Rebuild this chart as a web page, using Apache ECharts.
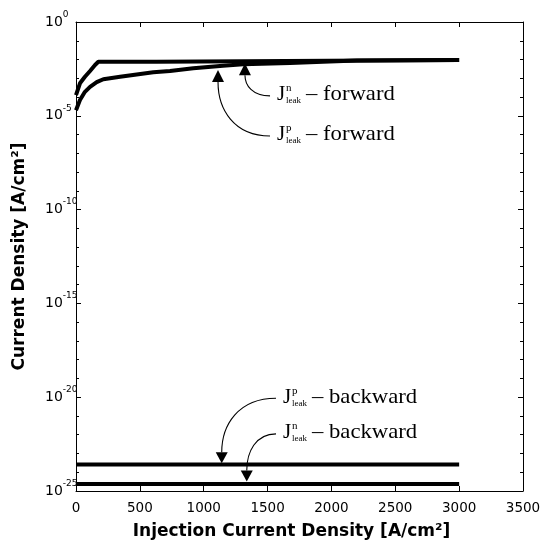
<!DOCTYPE html>
<html>
<head>
<meta charset="utf-8">
<script src="https://cdn.jsdelivr.net/npm/echarts@6/dist/echarts.min.js"></script>
<style>
  html, body { margin: 0; padding: 0; background: #fff; }
  #chart { width: 550px; height: 549px; }
</style>
</head>
<body>
<div id="chart"></div>
<script>
// Leakage current densities vs. injection current density (A/cm^2)
const nForwardX = [0, 31, 70, 110, 149, 175, 630, 640, 3000];
const nForwardY = [1.26e-4, 5.4e-4, 1.2e-3, 2.45e-3, 5.1e-3, 7.6e-3, 7.6e-3, 9.3e-3, 9.5e-3];

const pForwardX = [0, 31, 70, 110, 162, 214, 345, 475, 605, 736, 918, 1151, 1308, 1676, 1934, 2200, 3000];
const pForwardY = [2.0e-5, 6.9e-5, 1.9e-4, 3.5e-4, 6.2e-4, 8.9e-4, 1.2e-3, 1.6e-3, 2.1e-3, 2.45e-3,
                   3.4e-3, 4.7e-3, 5.6e-3, 6.5e-3, 7.6e-3, 8.9e-3, 9.3e-3];

const backwardX = [0, 3000];
const pBackwardY = [2.57e-24, 2.57e-24];
const nBackwardY = [2.34e-25, 2.34e-25];

// axis ranges (y in decades: 10^-25 .. 10^0)
const xMin = 0, xMax = 3500, xStep = 500;
const yMinExp = -25, yMaxExp = 0, yStepExp = 5;

// label text of the annotations
const carriers = ['n', 'p', 'p', 'n'];
const directions = ['forward', 'forward', 'backward', 'backward'];

// annotation anchors in data space: label start, arrow tip, arrow direction
const notePlacement = [
  { label: [1574, 1.3e-4],  tip: [1323, 6.3e-3],  head: 'up' },
  { label: [1574, 9.5e-7],  tip: [1112, 2.75e-3], head: 'up' },
  { label: [1621, 1.0e-20], tip: [1141, 3.0e-24], head: 'down' },
  { label: [1621, 1.26e-22], tip: [1337, 3.2e-25], head: 'down' }
];

// the y axis is laid out in decades, so values go through log10
const dec = v => Math.log10(v);
const zip = (xs, ys) => xs.map((x, i) => [x, dec(ys[i])]);

const sansFont = 'DejaVu Sans';
const serifFont = 'Liberation Serif';

const chart = echarts.init(document.getElementById('chart'), null, { renderer: 'canvas' });

const yLabelFormatter = e => '{b|10}{s|' + Math.round(e) + '}';

const axisLineStyle = { show: true, onZero: false, lineStyle: { color: '#000', width: 1 } };

const baseY = {
  type: 'value',
  min: yMinExp,
  max: yMaxExp,
  interval: yStepExp,
  axisLine: axisLineStyle,
  axisTick: { show: true, inside: true, length: 5, lineStyle: { color: '#000' } },
  minorTick: { show: true, splitNumber: 5, length: 3, lineStyle: { color: '#000' } },
  splitLine: { show: false },
  minorSplitLine: { show: false }
};

const baseX = {
  type: 'value',
  min: xMin,
  max: xMax,
  interval: xStep,
  axisLine: axisLineStyle,
  axisTick: { show: true, inside: true, length: 5, lineStyle: { color: '#000' } },
  splitLine: { show: false }
};

const lineSeries = (name, data) => ({
  name,
  type: 'line',
  data,
  showSymbol: false,
  symbol: 'none',
  lineStyle: { color: '#000', width: 4 },
  itemStyle: { color: '#000' },
  xAxisIndex: 0,
  yAxisIndex: 0,
  z: 3
});

chart.setOption({
  animation: false,
  backgroundColor: '#fff',
  grid: { left: 76, right: 27, top: 22, bottom: 58, containLabel: false, outerBoundsMode: 'none' },
  xAxis: [
    Object.assign({}, baseX, {
      position: 'bottom',
      name: 'Injection Current Density [A/cm²]',
      nameLocation: 'middle',
      nameGap: 32,
      nameTextStyle: {
        fontFamily: sansFont, fontWeight: 'bold', fontSize: 17, color: '#000',
        verticalAlign: 'top', padding: [0, 16, 0, 0]
      },
      axisLabel: { margin: 10, fontFamily: sansFont, fontSize: 13.5, color: '#000', formatter: v => String(v) }
    }),
    Object.assign({}, baseX, { position: 'top', axisLabel: { show: false } })
  ],
  yAxis: [
    Object.assign({}, baseY, {
      position: 'left',
      name: 'Current Density [A/cm²]',
      nameLocation: 'middle',
      nameGap: 48,
      nameRotate: 90,
      nameTextStyle: { fontFamily: sansFont, fontWeight: 'bold', fontSize: 17, color: '#000' },
      axisLabel: {
        align: 'left',
        margin: 31,
        formatter: yLabelFormatter,
        rich: {
          b: { fontFamily: sansFont, fontSize: 14, color: '#000' },
          s: { fontFamily: sansFont, fontSize: 9, color: '#000', padding: [0, 0, 15, 0] }
        }
      }
    }),
    Object.assign({}, baseY, { position: 'right', axisLabel: { show: false } })
  ],
  series: [
    lineSeries('J_n forward', zip(nForwardX, nForwardY)),
    lineSeries('J_p forward', zip(pForwardX, pForwardY)),
    lineSeries('J_p backward', zip(backwardX, pBackwardY)),
    lineSeries('J_n backward', zip(backwardX, nBackwardY))
  ]
});

// annotations: curved leader with a filled arrowhead and a J^x_leak label
const toPx = d => chart.convertToPixel({ xAxisIndex: 0, yAxisIndex: 0 }, [d[0], dec(d[1])]);
const graphics = [];

notePlacement.forEach((p, i) => {
  const [lx, ly] = toPx(p.label);
  const [tx, ty] = toPx(p.tip);
  const up = p.head === 'up';
  const headLen = up ? 12 : 11;
  const headHalf = 6;
  const by = up ? ty + headLen : ty - headLen;

  graphics.push({
    type: 'polygon',
    shape: { points: [[tx, ty], [tx - headHalf, by], [tx + headHalf, by]] },
    style: { fill: '#000' },
    z: 10
  });

  const sx = lx - 7, sy = ly + 1;
  graphics.push({
    type: 'bezierCurve',
    shape: {
      x1: sx, y1: sy,
      cpx1: sx - 0.7 * (sx - tx), cpy1: sy,
      cpx2: tx, cpy2: by + 0.5 * (sy - by),
      x2: tx, y2: by
    },
    style: { stroke: '#000', lineWidth: 1.1, fill: null },
    z: 10
  });

  graphics.push({
    type: 'text', x: lx, y: ly, z: 10,
    style: { text: 'J', fontFamily: serifFont, fontSize: 21, fill: '#000', align: 'left', verticalAlign: 'middle' }
  });
  graphics.push({
    type: 'text', x: lx + 9, y: ly - 6.5, z: 10,
    style: { text: carriers[i], fontFamily: serifFont, fontSize: 11, fill: '#000', align: 'left', verticalAlign: 'middle' }
  });
  graphics.push({
    type: 'text', x: lx + 9, y: ly + 6, z: 10,
    style: { text: 'leak', fontFamily: serifFont, fontSize: 9, fill: '#000', align: 'left', verticalAlign: 'middle' }
  });
  graphics.push({
    type: 'text', x: lx + 29, y: ly, z: 10, scaleX: 1.08,
    style: { text: '– ' + directions[i], fontFamily: serifFont, fontSize: 21, fill: '#000', align: 'left', verticalAlign: 'middle' }
  });
});

chart.setOption({ graphic: graphics });
</script>
</body>
</html>
